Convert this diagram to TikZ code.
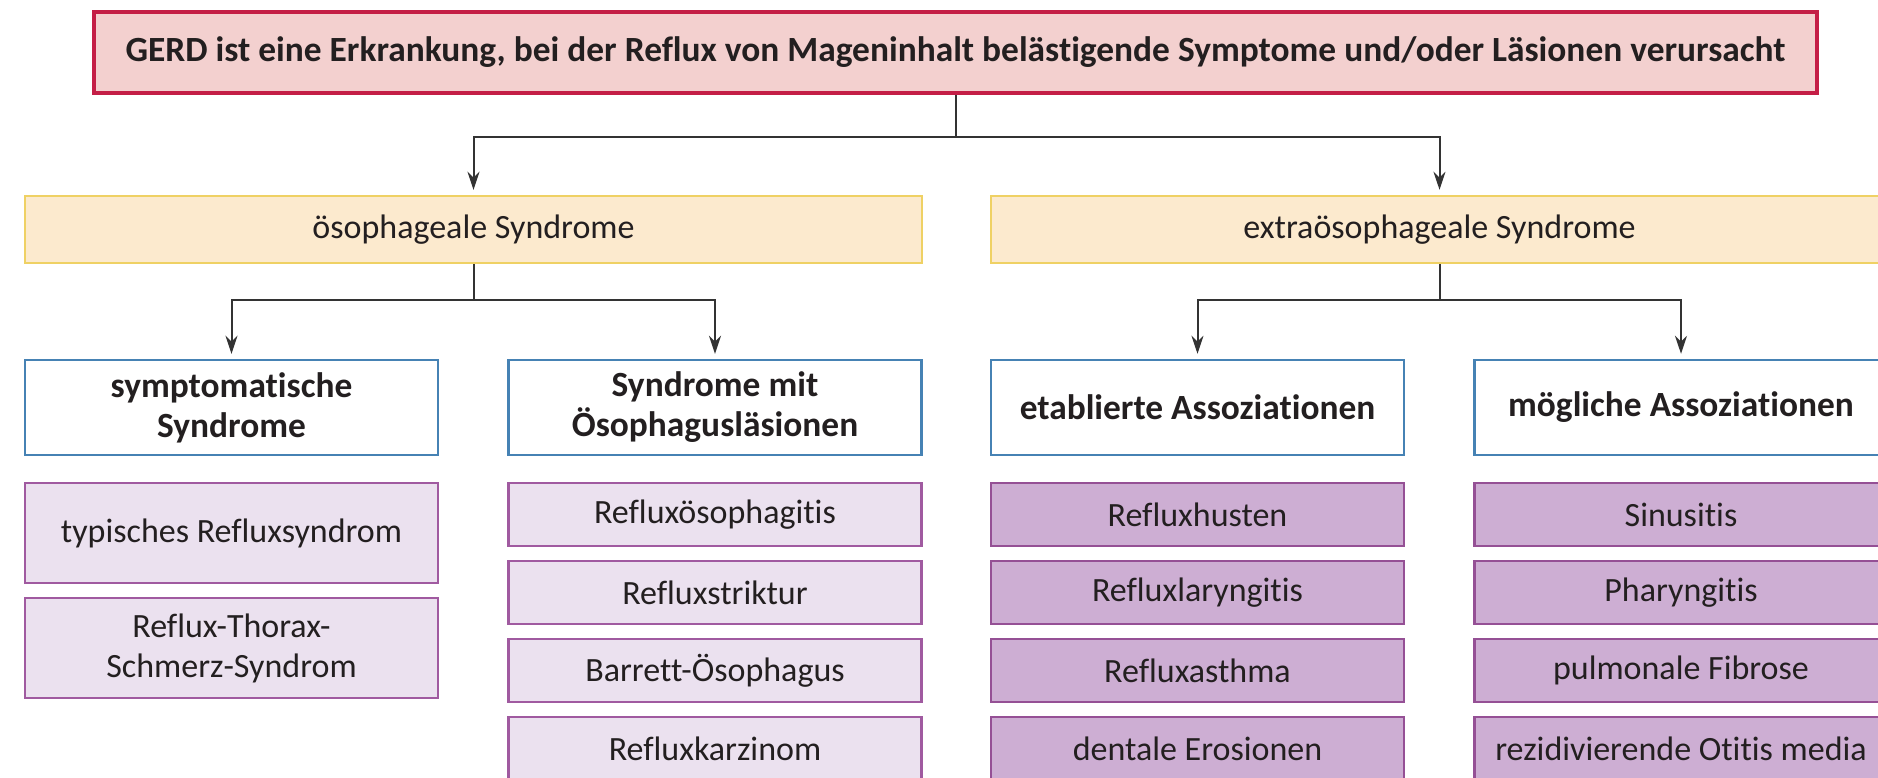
\documentclass[tikz,border=0pt]{standalone}
\usepackage{fontspec}
\setmainfont[Ligatures=NoCommon]{Carlito}
\usepackage{tikz}
\usetikzlibrary{arrows.meta}
\definecolor{gerdrand}{HTML}{C41E46}
\definecolor{gerdfill}{HTML}{F3D0CF}
\definecolor{gelbrand}{HTML}{EFD164}
\definecolor{gelbfill}{HTML}{FCEACE}
\definecolor{kopfrand}{HTML}{4682B4}
\definecolor{hellrand}{HTML}{A05AA0}
\definecolor{hellfill}{HTML}{EBE1EF}
\definecolor{dunkelrand}{HTML}{955095}
\definecolor{dunkelfill}{HTML}{CDAED3}
\definecolor{pfeil}{HTML}{333333}
\definecolor{schrift}{HTML}{231F20}

\begin{document}
\begin{tikzpicture}[x=0.5pt,y=-0.5pt,
  every node/.style={font=\fontsize{17}{20}\selectfont,text=schrift,align=center,inner sep=0pt},
  gerdbox/.style={draw=gerdrand,fill=gerdfill,line width=2pt,minimum width=861.5pt,minimum height=40.5pt,font=\fontsize{17.7}{20}\selectfont\bfseries},
  gruppe/.style={draw=gelbrand,fill=gelbfill,line width=1.2pt,minimum width=448.5pt,minimum height=33.5pt},
  kopf/.style={draw=kopfrand,fill=white,line width=1.2pt,minimum width=206.5pt,minimum height=47.5pt,font=\fontsize{17.7}{20}\selectfont\bfseries},
  hell/.style={draw=hellrand,fill=hellfill,line width=1.2pt,minimum width=206.5pt,minimum height=31.5pt},
  dunkel/.style={hell,draw=dunkelrand,fill=dunkelfill},
  conn/.style={draw=pfeil,line width=1pt},
  arr/.style={conn,-{Stealth[length=9pt,width=6pt]},shorten >=2.5pt}]
  \useasboundingbox (0,0) rectangle (1878,777);
  \clip (0,0) rectangle (1878,777);
   \coordinate (j0) at (955.5,137);
   \coordinate (j1) at (473.5,300);
   \coordinate (j2) at (1439.5,300);
  \node[gerdbox] (gerd) at (955.5,52.5) {GERD ist eine Erkrankung, bei der Reflux von Mageninhalt belästigende Symptome und/oder Läsionen verursacht};
  \node[gruppe] (oeso) at (473.5,229.5) {ösophageale Syndrome};
  \node[gruppe] (extra) at (1439.5,229.5) {extraösophageale Syndrome};
  \node[kopf] (symp) at (231.5,407.5) {symptomatische\\Syndrome};
  \node[kopf] (laes) at (715,407.5) {Syndrome mit\\Ösophagusläsionen};
  \node[kopf] (etab) at (1197.5,407.5) {etablierte Assoziationen};
  \node[kopf] (moegl) at (1681,407.5) {mögliche Assoziationen};
%  symptomatische Syndrome: two taller boxes
  \node[hell,minimum height=50pt] (symp1) at (231.5,533) {typisches Refluxsyndrom};
  \node[hell,minimum height=50pt] (symp2) at (231.5,648) {Reflux-Thorax-\\Schmerz-Syndrom};
  \foreach \txt [count=\i] in {Refluxösophagitis,Refluxstriktur,Barrett-Ösophagus,Refluxkarzinom}
    \node[hell] (laes\i) at (715,436.5+78*\i) {\txt};
  \foreach \txt [count=\i] in {Refluxhusten,Refluxlaryngitis,Refluxasthma,dentale Erosionen}
    \node[dunkel] (etab\i) at (1197.5,436.5+78*\i) {\txt};
  \foreach \txt [count=\i] in {Sinusitis,Pharyngitis,pulmonale Fibrose,rezidivierende Otitis media}
    \node[dunkel] (moegl\i) at (1681,436.5+78*\i) {\txt};
 \draw[conn] (gerd.south) -- (j0);
 \draw[arr] (j0) -| (oeso.north);
 \draw[arr] (j0) -| (extra.north);
 \draw[conn] (oeso.south) -- (j1);
 \draw[arr] (j1) -| (symp.north);
 \draw[arr] (j1) -| (laes.north);
 \draw[conn] (extra.south) -- (j2);
 \draw[arr] (j2) -| (etab.north);
 \draw[arr] (j2) -| (moegl.north);
\end{tikzpicture}
\end{document}
